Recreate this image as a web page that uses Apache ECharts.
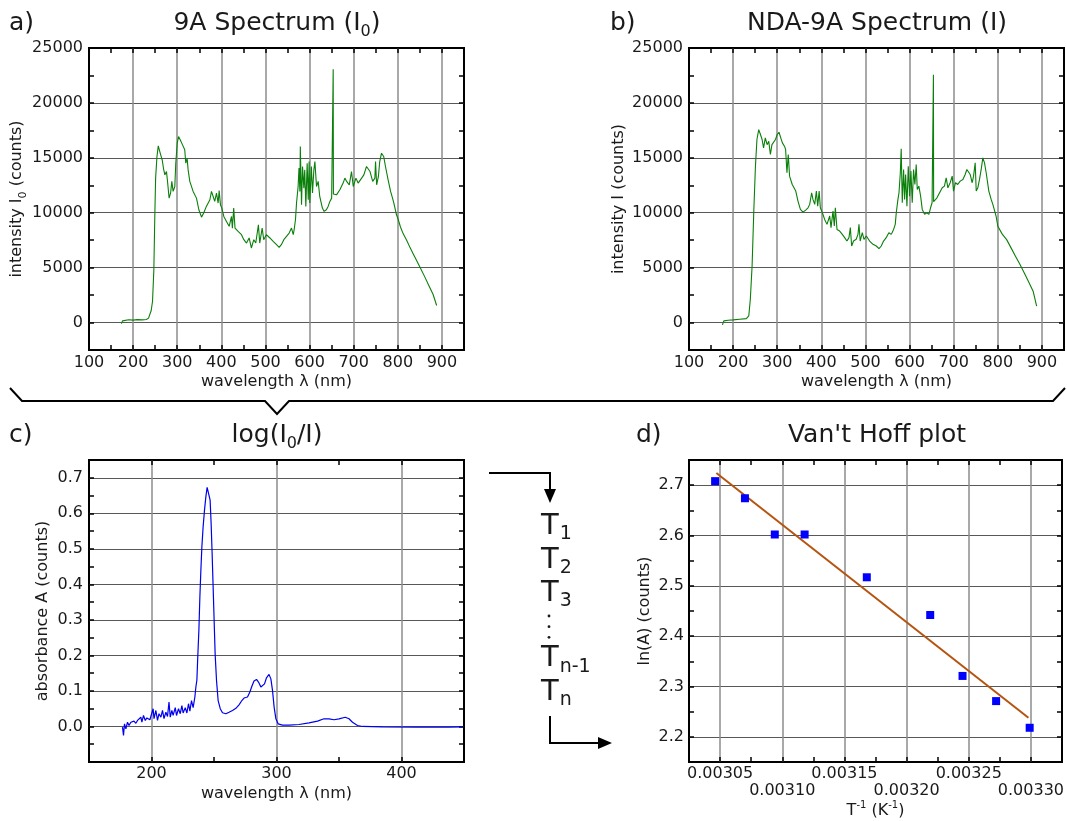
<!DOCTYPE html>
<html>
<head>
<meta charset="utf-8">
<title>9A spectra, absorbance and Van't Hoff plot</title>
<script src="https://cdn.jsdelivr.net/npm/echarts@6/dist/echarts.min.js"></script>
<style>
  html, body { margin: 0; padding: 0; background: #fff; }
  #chart { width: 1067px; height: 821px; }
</style>
</head>
<body>
<div id="chart"></div>
<script>
// a) 9A spectrum, I0 : [wavelength nm, counts]
const i0Points = [
  [173.5, -100], [176, 150], [180, 230], [190, 260], [200, 220], [210, 270], [220, 240], [230, 280],
  [235, 400], [238, 580], [241, 1100], [244, 1940], [247, 4800], [249, 9360], [251, 13150], [254, 15100],
  [257, 16090], [260.5, 15570], [263, 15200], [266, 14800], [269, 14000], [272, 13450], [275.6, 13750],
  [278, 12850], [281.6, 11330], [285, 11800], [287.7, 12850], [290.7, 11940], [294.5, 12390], [296.7, 14510],
  [300, 16330], [303, 16940], [307, 16630], [312, 16180], [317, 15730], [319.4, 14510], [322.4, 14970],
  [324.7, 13900], [328.5, 12850], [336, 11940], [343.6, 11330], [349, 10270], [355, 9600], [360, 9970],
  [366, 10575], [374, 11180], [377.6, 11940], [381.4, 11480], [385, 11030], [389, 11790], [392.7, 10880],
  [395, 12030], [398, 10730], [401, 10420], [405.6, 9660], [411.6, 9210], [417.7, 8760], [423, 9660],
  [425, 8600], [428, 10420], [431, 8600], [438, 8300], [445.6, 8000], [451, 7545], [457, 7240], [463, 7700],
  [468, 6790], [473.6, 7545], [478, 7240], [484, 8900], [487, 7240], [492.5, 8600], [496, 7545], [502, 8000],
  [510, 7700], [517.5, 7390], [525, 7090], [531, 6850], [536, 7090], [541.6, 7545], [547.7, 7850],
  [553.7, 8150], [559, 8600], [563, 8000], [565, 8450], [568, 9360], [570.4, 10880], [574, 12390],
  [576, 14060], [578, 11940], [579, 16030], [581.7, 10730], [584, 14210], [587, 12240], [589, 13900],
  [591.5, 10575], [594.5, 14510], [597, 11180], [599, 14660], [600.5, 10880], [604, 14210], [606.6, 11790],
  [609.7, 13900], [612, 14660], [615.7, 12390], [619.5, 12850], [623, 11480], [629, 10420], [633, 10120],
  [638, 10270], [642, 10575], [646, 11030], [650, 11330], [653, 11500], [653.5, 23060], [654, 11700],
  [661, 11630], [668.6, 12090], [676, 12700], [680, 13150], [684, 12850], [690, 12540], [695, 13750],
  [699, 12390], [705, 13150], [710, 12700], [718, 13150], [723, 13450], [729, 14210], [733, 14360],
  [737, 13750], [743, 12850], [748, 13150], [749.5, 14660], [752, 12540], [756, 13300], [759, 14660],
  [763, 15420], [765, 15570], [768, 15120], [772, 14210], [778, 13000], [783.6, 11940], [788, 11330],
  [791, 10880], [793.6, 11030], [797, 9810], [800, 9500], [806, 8700], [812, 8100], [820, 7500],
  [828, 6800], [835, 6250], [842, 5700], [850, 5050], [860, 4250], [870, 3400], [880, 2550], [888, 1550]
]

// b) NDA-9A spectrum, I
const iPoints = [
  [175.8, -210], [179, 150], [188.7, 210], [200, 240], [215, 300], [230, 360], [235.5, 600], [239, 2120],
  [243, 5150], [247, 10300], [250.6, 14240], [254, 16670], [258, 17570], [262, 17120], [265.7, 16670],
  [269, 15900], [273, 16820], [277, 16200], [280.8, 16500], [284.5, 15300], [288, 16200], [292, 16360],
  [296, 16670], [300, 17120], [304, 17330], [308, 16820], [311.7, 16360], [317, 16000], [319, 15760],
  [322, 13640], [325, 15300], [328, 13330], [334, 12570], [342, 11970], [347, 11060], [352.5, 10300],
  [358.5, 10060], [364.5, 10240], [369.8, 10450], [373.6, 10760], [378, 11820], [381, 11210], [385, 10760],
  [388.7, 11970], [391.7, 10600], [395, 11970], [397.7, 10450], [402.3, 10000], [407.5, 9390], [412.8, 8940],
  [418.9, 9700], [421.9, 8640], [426.4, 10150], [429.4, 8790], [431.7, 10450], [435.5, 8480], [441.5, 8330],
  [447.5, 8030], [452.8, 7730], [458, 7420], [462.6, 7730], [465.7, 8640], [468.7, 6970], [473, 7420],
  [479, 7580], [483, 8030], [485.3, 8940], [488, 7420], [492.8, 8180], [496.6, 7580], [502, 7880],
  [509.4, 7420], [517, 7120], [524.5, 6970], [530.6, 6730], [535.8, 6970], [541, 7420], [547, 7730],
  [553, 8180], [558.5, 8030], [563.8, 8480], [567.5, 8940], [569.8, 10000], [573.6, 11210], [576, 11820],
  [579, 13640], [581, 15820], [583.4, 10910], [586.4, 13940], [588.7, 11210], [591, 13480], [594, 10600],
  [597, 14240], [600, 11510], [603, 13790], [606, 10910], [609, 13940], [612, 12570], [615, 14390],
  [617.4, 12120], [621, 12420], [625, 11510], [628.7, 10300], [634, 9850], [639, 10000], [643.8, 9850],
  [647.5, 10450], [651, 10910], [653.5, 10950], [654, 22570], [654.5, 11000], [656.6, 11060], [662, 11360],
  [668, 11820], [674, 12270], [679, 12420], [683, 13180], [686.8, 12270], [692, 12730], [696.6, 13330],
  [699.6, 11970], [704, 12730], [709, 12570], [714.7, 12880], [720.8, 13030], [726, 13480], [729.8, 13940],
  [733.6, 14090], [737.4, 13480], [741.9, 12730], [745, 13330], [748.7, 14540], [751, 11970], [754.7, 12270],
  [758.5, 13030], [762.3, 13940], [766, 15000], [769.8, 14540], [773.6, 13640], [779.6, 11970], [784.9, 11210],
  [788.7, 10760], [792.5, 10600], [796, 9700], [800, 8770], [810, 8050], [820, 7550], [830, 6800],
  [840, 6040], [850, 5300], [860, 4520], [870, 3700], [880, 2850], [888, 1490]
]

// c) absorbance log(I0/I)
const absPoints = [
  [176.8, -0.002], [177.6, -0.025], [178.4, 0.0075], [179.5, -0.007], [180.8, 0.012], [182, 0.003],
  [183.5, 0.012], [184.8, 0.0075], [186, 0.015], [187.5, 0.009], [188.8, 0.017], [190, 0.022], [191.5, 0.026],
  [192.3, 0.012], [193.6, 0.031], [195, 0.017], [196.3, 0.024], [197.6, 0.022], [198.7, 0.019], [200.3, 0.022],
  [201.3, 0.05], [202, 0.022], [203.5, 0.045], [204.8, 0.017], [206, 0.036], [207.5, 0.026], [208.8, 0.045],
  [210, 0.022], [211.5, 0.04], [212.8, 0.028], [214, 0.069], [215, 0.026], [216.3, 0.045], [217.3, 0.031],
  [219, 0.053], [220, 0.031], [221.6, 0.05], [223, 0.036], [224.3, 0.059], [225.3, 0.038], [227, 0.053],
  [228.3, 0.038], [229.6, 0.064], [230.7, 0.043], [232, 0.073], [233.3, 0.053], [234.7, 0.083], [235.5, 0.111],
  [236.3, 0.13], [237, 0.195], [237.9, 0.27], [238.7, 0.365], [239.5, 0.44], [240.3, 0.506], [241.3, 0.562],
  [242.4, 0.609], [243.5, 0.647], [244.5, 0.673], [245.3, 0.677], [246.1, 0.675], [246.9, 0.637], [247.7, 0.571],
  [248.5, 0.487], [249.3, 0.393], [250.1, 0.299], [250.9, 0.205], [252, 0.13], [253.3, 0.073], [255, 0.05],
  [256.8, 0.0385], [259.5, 0.0357], [262, 0.04], [264.8, 0.045], [267.5, 0.051], [270, 0.061], [272.3, 0.073],
  [274, 0.08], [276.8, 0.083], [278.7, 0.097], [280.3, 0.113], [282, 0.128], [284, 0.1325], [285.6, 0.125],
  [287.5, 0.111], [288.8, 0.106], [290.4, 0.12], [292, 0.137], [294, 0.1466], [295.5, 0.134], [296.8, 0.1015],
  [298.1, 0.0545], [299.5, 0.0216], [301.3, 0.0075], [304.8, 0.0038], [310, 0.0038], [318, 0.0056], [326, 0.01],
  [332.8, 0.015], [338, 0.0216], [342, 0.0216], [346, 0.019], [350, 0.0216], [355, 0.026], [358, 0.0216],
  [360.8, 0.012], [364.8, 0.0028], [368.8, 0], [384.8, -0.001], [411.5, -0.002], [438, -0.002], [448.8, -0.001]
]

// d) Van't Hoff plot
const invTemp = [0.003046, 0.003070, 0.003094, 0.003118, 0.003168, 0.003219, 0.003245, 0.003272, 0.003299]
const lnA = [2.708, 2.674, 2.602, 2.602, 2.517, 2.442, 2.321, 2.271, 2.218]
const fitX = [0.003047, 0.003298]
const fitY = [2.724, 2.238]

const FONT = 'DejaVu Sans'
const INK = '#1a1a1a'
const GREEN = '#0a7f0a'

const grids = [
  { left: 89, top: 48, width: 375, height: 302 },
  { left: 689, top: 48, width: 376, height: 302 },
  { left: 89, top: 460, width: 375, height: 302 },
  { left: 689, top: 460, width: 376, height: 302 }
]

const near = (v, step) => Math.abs(v / step - Math.round(v / step)) < 1e-6

const sub = { fontFamily: FONT, fontSize: 11, verticalAlign: 'bottom', padding: [0, 0, -3, 0] }
const sup = { fontFamily: FONT, fontSize: 10, verticalAlign: 'top', padding: [-3, 0, 0, 0] }

const panels = [
  {
    x: { min: 100, max: 950, interval: 100, step: 50, name: 'wavelength λ (nm)', nameGap: 24, margin: 4,
      fmt: v => (near(v, 100) && v <= 900 ? String(v) : '') },
    y: { min: -2500, max: 25000, step: 2500, name: 'intensity I{sub|0} (counts)', nameGap: 62, margin: 6,
      fmt: v => (v >= 0 && near(v, 5000) ? String(v) : '') }
  },
  {
    x: { min: 100, max: 950, interval: 100, step: 50, name: 'wavelength λ (nm)', nameGap: 24, margin: 4,
      fmt: v => (near(v, 100) && v <= 900 ? String(v) : '') },
    y: { min: -2500, max: 25000, step: 2500, name: 'intensity I (counts)', nameGap: 62, margin: 6,
      fmt: v => (v >= 0 && near(v, 5000) ? String(v) : '') }
  },
  {
    x: { min: 150, max: 450, splitNumber: 3, step: 50, name: 'wavelength λ (nm)', nameGap: 24, margin: 3,
      fmt: v => (near(v, 100) ? String(v) : '') },
    y: { min: -0.1, max: 0.75, interval: 0.1, step: 0.05, name: 'absorbance A (counts)', nameGap: 38, margin: 6,
      fmt: v => (v > -0.01 && v < 0.71 && near(v, 0.1) ? v.toFixed(1) : '') }
  },
  {
    x: { min: 0.003025, max: 0.003325, splitNumber: 6, step: 0.000025, name: 'T{sup|-1} (K{sup|-1})', nameGap: 41, margin: 3,
      fmt: v => {
        if (!near(v, 0.00005) || v < 0.00304 || v > 0.003301) return ''
        const k = Math.round(v / 0.00005)
        return k % 2 ? v.toFixed(5) : '\n' + v.toFixed(5)
      } },
    y: { min: 2.15, max: 2.75, splitNumber: 6, step: 0.05, name: 'ln(A) (counts)', nameGap: 36, margin: 5,
      fmt: v => (v > 2.19 && v < 2.71 && near(v, 0.1) ? v.toFixed(1) : '') }
  }
]

function mainAxis(gridIndex, dim, c) {
  const isX = dim === 'x'
  return {
    type: 'value', gridIndex, position: isX ? 'bottom' : 'left',
    min: c.min, max: c.max, interval: c.interval, splitNumber: c.splitNumber,
    name: c.name, nameLocation: 'middle', nameGap: c.nameGap,
    nameTextStyle: { fontFamily: FONT, fontSize: 16, color: INK, rich: { sub, sup } },
    axisLine: { show: false, onZero: false },
    axisTick: { show: false },
    axisLabel: { margin: c.margin, fontFamily: FONT, fontSize: 16, color: INK, lineHeight: 17, formatter: c.fmt },
    splitLine: {
      show: true, showMinLine: false, showMaxLine: false,
      lineStyle: { color: isX ? '#8c8c8c' : '#585858', width: isX ? 1.5 : 1 }
    }
  }
}

// ticks only, mirrored on all four sides
function tickAxis(gridIndex, position, c) {
  return {
    type: 'value', gridIndex, position, min: c.min, max: c.max, interval: c.step,
    axisLine: { show: false, onZero: false },
    axisTick: { show: true, inside: true, length: 5, lineStyle: { color: '#000', width: 1.5 } },
    axisLabel: { show: false },
    splitLine: { show: false }
  }
}

const xAxis = []
const yAxis = []
panels.forEach((p, g) => {
  xAxis.push(mainAxis(g, 'x', p.x), tickAxis(g, 'bottom', p.x), tickAxis(g, 'top', p.x))
  yAxis.push(mainAxis(g, 'y', p.y), tickAxis(g, 'left', p.y), tickAxis(g, 'right', p.y))
})

const titleStyle = { fontFamily: FONT, fontSize: 25, fontWeight: 'normal', color: INK,
  rich: { sub: { fontFamily: FONT, fontSize: 16, verticalAlign: 'bottom', padding: [0, 0, -4, 0] } } }
const titleDefs = [
  ['9A Spectrum (I{sub|0})', 277, 11], ['NDA-9A Spectrum (I)', 877, 11],
  ['log(I{sub|0}/I)', 277, 423], ["Van't Hoff plot", 877, 423]
]
const labelDefs = [['a)', 9, 11], ['b)', 610, 11], ['c)', 9, 423], ['d)', 636, 423]]
const title = [
  ...titleDefs.map(([text, left, top]) => ({ text, left, top, textAlign: 'center', padding: 0, textStyle: titleStyle })),
  ...labelDefs.map(([text, left, top]) => ({ text, left, top, padding: 0, textStyle: titleStyle }))
]

const line = { type: 'polyline', style: { stroke: '#000', lineWidth: 2, fill: null }, silent: true }
const tLabel = (s, y) => ({
  type: 'text', x: 541, y, silent: true,
  style: { text: 'T{s|' + s + '}', fontFamily: FONT, fontSize: 29, fill: INK, verticalAlign: 'middle',
    rich: { s: { fontFamily: FONT, fontSize: 19, verticalAlign: 'bottom', padding: [0, 0, -3, 1] } } }
})
const dot = y => ({ type: 'circle', shape: { cx: 549, cy: y, r: 1.4 }, style: { fill: INK }, silent: true })

const graphic = [
  { ...line, shape: { points: [[10, 388], [22, 401], [265, 401], [277, 414], [289, 401], [1053, 401], [1065, 388]] } },
  { ...line, shape: { points: [[489, 473], [550, 473], [550, 492]] } },
  { type: 'polygon', shape: { points: [[544, 489], [556, 489], [550, 503]] }, style: { fill: '#000' }, silent: true },
  { ...line, shape: { points: [[550, 716], [550, 743], [600, 743]] } },
  { type: 'polygon', shape: { points: [[598, 737], [598, 749], [612, 743]] }, style: { fill: '#000' }, silent: true },
  tLabel('1', 526), tLabel('2', 560), tLabel('3', 593.5), tLabel('n-1', 658.7), tLabel('n', 692),
  dot(616), dot(626.7), dot(637.3)
]

const chart = echarts.init(document.getElementById('chart'))
chart.setOption({
  animation: false,
  backgroundColor: '#fff',
  title,
  grid: grids.map(g => ({ ...g, show: true, borderColor: '#000', borderWidth: 2, backgroundColor: 'transparent' })),
  xAxis,
  yAxis,
  graphic,
  series: [
    { type: 'line', xAxisIndex: 0, yAxisIndex: 0, data: i0Points, symbol: 'none', lineStyle: { color: GREEN, width: 1.1 } },
    { type: 'line', xAxisIndex: 3, yAxisIndex: 3, data: iPoints, symbol: 'none', lineStyle: { color: GREEN, width: 1.1 } },
    { type: 'line', xAxisIndex: 6, yAxisIndex: 6, data: absPoints, symbol: 'none', lineStyle: { color: '#0000ee', width: 1.2 } },
    { type: 'line', xAxisIndex: 9, yAxisIndex: 9, data: fitX.map((x, i) => [x, fitY[i]]), symbol: 'none',
      lineStyle: { color: '#b5530f', width: 2 } },
    { type: 'scatter', xAxisIndex: 9, yAxisIndex: 9, data: invTemp.map((x, i) => [x, lnA[i]]), symbol: 'rect',
      symbolSize: 8, itemStyle: { color: '#0000ff', opacity: 1 }, z: 3 }
  ]
})
</script>
</body>
</html>
